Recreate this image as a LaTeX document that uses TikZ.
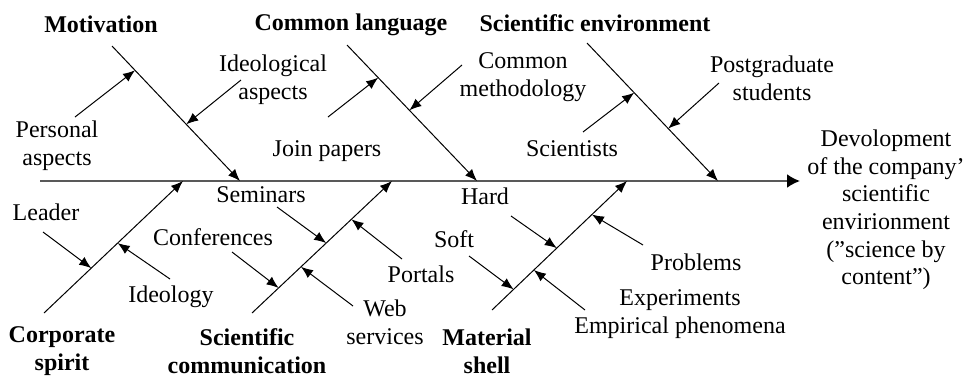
\documentclass[tikz,border=0pt]{standalone}
\usepackage{fontspec}
\setmainfont{Liberation Serif}
\usetikzlibrary{arrows.meta}

\begin{document}
\begin{tikzpicture}[x=0.5pt,y=-0.5pt,>={Latex[length=6pt,width=4.8pt]},
  lbl/.style={align=center,inner sep=0pt,font=\fontsize{12}{13.8}\selectfont},
  head/.style={lbl,font=\fontsize{12}{13.8}\selectfont\bfseries},
  bone/.style={->,line width=0.5pt}]
\useasboundingbox (0,0) rectangle (964,376);
\coordinate (s0) at (40,181);
\coordinate (s1) at (800,181);
\draw[-{Latex[length=6.5pt,width=7pt,black]},line width=1pt,black!65] (s0) -- (s1);

\coordinate (a0) at (112,46);  \coordinate (a1) at (240,181);
\coordinate (b0) at (347,45);  \coordinate (b1) at (477,181);
\coordinate (c0) at (587,43);  \coordinate (c1) at (718,181);
\coordinate (d0) at (44,313);  \coordinate (d1) at (183,181);
\coordinate (e0) at (252,313); \coordinate (e1) at (392,181);
\coordinate (f0) at (492,310); \coordinate (f1) at (627,181);

\draw[bone] (a0) -- coordinate[pos=.18] (a2) coordinate[pos=.58] (a3) (a1);
\draw[bone] (b0) -- coordinate[pos=.24] (b2) coordinate[pos=.48] (b3) (b1);
\draw[bone] (c0) -- coordinate[pos=.36] (c2) coordinate[pos=.62] (c3) (c1);
\draw[bone] (d0) -- coordinate[pos=.34] (d2) coordinate[pos=.53] (d3) (d1);
\draw[bone] (e0) -- coordinate[pos=.19] (e2) coordinate[pos=.35] (e3)
  coordinate[pos=.53] (e4) coordinate[pos=.71] (e5) (e1);
\draw[bone] (f0) -- coordinate[pos=.16] (f2) coordinate[pos=.31] (f3)
  coordinate[pos=.48] (f4) coordinate[pos=.74] (f5) (f1);

\coordinate (a4) at (75,117);  \coordinate (a5) at (241,80);
\coordinate (b4) at (328,117); \coordinate (b5) at (462,65);
\coordinate (c4) at (583,132); \coordinate (c5) at (719,83);
\coordinate (d4) at (43,232);  \coordinate (d5) at (170,279);
\coordinate (e6) at (232,252); \coordinate (e7) at (353,306);
\coordinate (e8) at (277,207); \coordinate (e9) at (402,259);
\coordinate (f6) at (469,256); \coordinate (f7) at (585,310);
\coordinate (f8) at (511,216); \coordinate (f9) at (643,245);

\draw[bone] (a4) -- (a2);
\draw[bone] (a5) -- (a3);
\draw[bone] (b4) -- (b2);
\draw[bone] (b5) -- (b3);
\draw[bone] (c4) -- (c2);
\draw[bone] (c5) -- (c3);
\draw[bone] (d4) -- (d2);
\draw[bone] (d5) -- (d3);
\draw[bone] (e6) -- (e2);
\draw[bone] (e7) -- (e3);
\draw[bone] (e8) -- (e4);
\draw[bone] (e9) -- (e5);
\draw[bone] (f6) -- (f2);
\draw[bone] (f7) -- (f3);
\draw[bone] (f8) -- (f4);
\draw[bone] (f9) -- (f5);

\node[head] (ha) at (101,24) {Motivation};
\node[head] (hb) at (351,25) {Common language};
\node[head] (hc) at (595,23) {Scientific environment};
\node[head] (hd) at (62,351) {Corporate\\spirit};
\node[head] (he) at (247,351) {Scientific\\communication};
\node[head] (hf) at (487,351) {Material\\shell};

\node[lbl] (la1) at (57,146) {Personal\\aspects};
\node[lbl] (la2) at (273,80) {Ideological\\aspects};
\node[lbl] (lb1) at (327,151) {Join papers};
\node[lbl] (lb2) at (523,77) {Common\\methodology};
\node[lbl] (lc1) at (572,149) {Scientists};
\node[lbl] (lc2) at (772,78) {Postgraduate\\students};
\node[lbl] (ld1) at (46,212) {Leader};
\node[lbl] (ld2) at (171,297) {Ideology};
\node[lbl] (le1) at (213,237) {Conferences};
\node[lbl] (le2) at (385,322) {Web\\services};
\node[lbl] (le3) at (261,195) {Seminars};
\node[lbl] (le4) at (421,274) {Portals};
\node[lbl] (lf1) at (454,239) {Soft};
\node[lbl] (lf2) at (680,314) {Experiments\\Empirical phenomena};
\node[lbl] (lf3) at (485,196) {Hard};
\node[lbl] (lf4) at (696,262) {Problems};
\node[lbl] (res) at (886,210) {Devolopment\\of the company’\\scientific\\envirionment\\(”science by\\content”)};
\end{tikzpicture}
\end{document}
